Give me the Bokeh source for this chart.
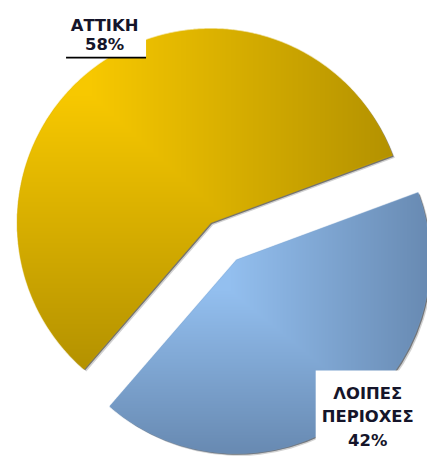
import numpy as np
from bokeh.plotting import figure
from bokeh.models import ColumnDataSource, Range1d, BoxAnnotation
from bokeh.embed import file_html
from bokeh.resources import INLINE
from bokeh.core.properties import value

# ---------------- data ----------------
categories = ["ΑΤΤΙΚΗ", "ΛΟΙΠΕΣ ΠΕΡΙΟΧΕΣ"]
shares = [58, 42]

# ---------------- layout / style ----------------
W, H = 427, 456                # figure size (page has 8px margin)
DW, DH = 443, 472              # data extent (reference picture units, y flipped)
SC = W / DW


def py(y_page):
    return DH - y_page


start_deg = 20.3
center = (231.5, py(249.2))
radius = 201.0
explode = 23.3

grad_lo = [(247, 200, 0), (147, 191, 239)]     # light end of each slice gradient
grad_hi = [(180, 146, 0), (104, 138, 178)]     # dark end
grad_t0 = [0.20, 0.38]
base_fill = ["#D4AC00", "#7EA4CE"]

label_pos = [(108, 26, 20), (381, 407, 24)]   # centre x, first baseline (ref y), line step
text_color = "#15152a"
font = "DejaVu Sans"
font_px = 17 * SC

# ---------------- geometry ----------------
fr = np.array(shares, float) / sum(shares)
s0 = np.deg2rad(start_deg)
ends = s0 + 2 * np.pi * np.cumsum(fr)
starts = np.concatenate([[s0], ends[:-1]])
mids = (starts + ends) / 2
ax = center[0] + explode * np.cos(mids)
ay = center[1] + explode * np.sin(mids)

src = ColumnDataSource(dict(ax=ax, ay=ay, s=starts, e=ends, fill=base_fill,
                            sx1=ax + 1.2, sy1=ay - 1.2, sx2=ax + 2.4, sy2=ay - 2.4))

# ---------------- gradient raster (one texel per screen pixel) ----------------
ss = 3
xs = (np.arange(W * ss) + 0.5) / ss * DW / W
ys = (np.arange(H * ss) + 0.5) / ss * DH / H
XX, YY = np.meshgrid(xs, ys)
xc = (np.arange(W) + 0.5) * DW / W
yc = (np.arange(H) + 0.5) * DH / H
XC, YC = np.meshgrid(xc, yc)

rgb = np.zeros((H, W, 3))
alpha = np.zeros((H, W))
for i in range(len(shares)):
    dx = XX - ax[i]
    dy = YY - ay[i]
    r = np.hypot(dx, dy)
    ang = np.mod(np.arctan2(dy, dx) - starts[i], 2 * np.pi)
    inside = (r <= radius) & (ang <= ends[i] - starts[i])
    cov = inside.reshape(H, ss, W, ss).mean(axis=(1, 3))
    th = np.linspace(starts[i], ends[i], 600)
    px = np.concatenate([[ax[i]], ax[i] + radius * np.cos(th)])
    pyy = np.concatenate([[ay[i]], ay[i] + radius * np.sin(th)])
    bx0, bx1, byb, byt = px.min(), px.max(), pyy.min(), pyy.max()
    t = np.maximum((XC - bx0) / (bx1 - bx0), (byt - YC) / (byt - byb))
    f = np.clip((t - grad_t0[i]) / (1 - grad_t0[i]), 0, 1)
    lo = np.array(grad_lo[i], float)
    hi = np.array(grad_hi[i], float)
    col = lo[None, None, :] + f[..., None] * (hi - lo)[None, None, :]
    rgb += col * cov[..., None]
    alpha += cov

alpha_c = np.clip(alpha, 0, 1)
rgb_out = np.where(alpha[..., None] > 0, rgb / np.maximum(alpha, 1e-9)[..., None], 255)
img = np.empty((H, W), dtype=np.uint32)
view = img.view(dtype=np.uint8).reshape((H, W, 4))
view[..., :3] = np.clip(rgb_out, 0, 255).astype(np.uint8)
view[..., 3] = (alpha_c * 255).round().astype(np.uint8)

# ---------------- figure ----------------
p = figure(width=W, height=H, output_backend="svg", toolbar_location=None,
           x_range=Range1d(0, DW), y_range=Range1d(0, DH),
           x_axis_type=None, y_axis_type=None, min_border=0,
           outline_line_color=None, background_fill_color="white",
           border_fill_color="white")
p.grid.visible = False

# soft drop shadow
p.wedge(x="sx2", y="sy2", radius=radius, start_angle="s", end_angle="e",
        fill_color="black", fill_alpha=0.18, line_color=None, source=src)
p.wedge(x="sx1", y="sy1", radius=radius, start_angle="s", end_angle="e",
        fill_color="black", fill_alpha=0.45, line_color=None, source=src)
# slices
p.wedge(x="ax", y="ay", radius=radius, start_angle="s", end_angle="e",
        fill_color="fill", line_color=None, source=src)
p.image_rgba(image=[img], x=0, y=0, dw=DW, dh=DH)

# label boxes
p.add_layout(BoxAnnotation(left=60, right=151, bottom=py(59), top=py(-5),
                           fill_color="white", fill_alpha=1, line_color=None))
p.add_layout(BoxAnnotation(left=68, right=151, bottom=py(60), top=py(58.2),
                           fill_color="black", fill_alpha=1, line_color=None))
p.add_layout(BoxAnnotation(left=327, right=460, bottom=py(480), top=py(383),
                           fill_color="white", fill_alpha=1, line_color=None))

# labels
lx, ly, lt = [], [], []
for cat, sh, (cx, by, step) in zip(categories, shares, label_pos):
    lines = cat.split(" ") + [f"{sh}%"]
    for k, ln in enumerate(lines):
        lx.append(cx)
        ly.append(py(by + k * step))
        lt.append(ln)
tr = p.text(x=lx, y=ly, text=lt, text_align="center", text_baseline="alphabetic",
            text_font=value(font), text_font_style="bold",
            text_font_size=f"{font_px:.1f}px", text_color=text_color)
tr.level = "overlay"

open("out.html", "w").write(file_html(p, INLINE))
